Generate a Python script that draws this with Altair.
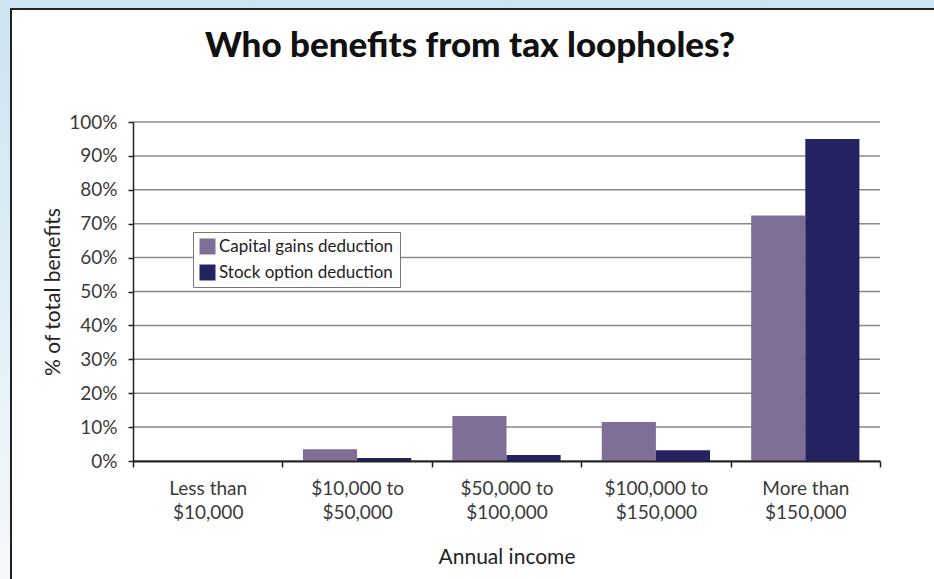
import altair as alt
import pandas as pd

title_text = "Who benefits from tax loopholes?"
categories = ["Less than\n$10,000", "$10,000 to\n$50,000", "$50,000 to\n$100,000",
              "$100,000 to\n$150,000", "More than\n$150,000"]
series = ["Capital gains deduction", "Stock option deduction"]
capital_gains = [0.0, 3.5, 13.3, 11.5, 72.4]
stock_option = [0.0, 0.9, 1.8, 3.2, 95.0]
colors = ["#7f6e96", "#252262"]
y_ticks = [0, 10, 20, 30, 40, 50, 60, 70, 80, 90, 100]

rows = []
for c, a, b in zip(categories, capital_gains, stock_option):
    rows.append({"income": c, "series": series[0], "value": a})
    rows.append({"income": c, "series": series[1], "value": b})
df = pd.DataFrame(rows)
grid_df = pd.DataFrame({"value": y_ticks})

W, H = 747, 339
PL, PT, PR, PB = 133, 122, 54, 118
FONT = "Lato"

one = alt.Data(values=[{}])

bg = alt.Chart(one).mark_rect(
    color=alt.Gradient(gradient="linear", x1=0, x2=0, y1=0, y2=1,
                       stops=[alt.GradientStop(color="#cce3f0", offset=0),
                              alt.GradientStop(color="#f4f9fc", offset=1)])
).encode(x=alt.value(-PL), x2=alt.value(W + PR), y=alt.value(-PT), y2=alt.value(H + PB))

panel = alt.Chart(one).mark_rect(fill="white", stroke="#222222", strokeWidth=2).encode(
    x=alt.value(11 - PL), x2=alt.value(W + PR + 20),
    y=alt.value(9 - PT), y2=alt.value(H + PB + 20))

title = alt.Chart(one).mark_text(
    font=FONT, fontSize=35, fontWeight=900, color="#111111",
    align="center", baseline="alphabetic"
).encode(x=alt.value(470 - PL), y=alt.value(57 - PT), text=alt.value(title_text))

y_axis = alt.Axis(title="% of total benefits", values=y_ticks,
                  labelExpr="datum.value + '%'", labelOverlap=False,
                  labelFlush=False,
                  labelFont=FONT, labelFontSize=19, labelColor="#3a3a3a",
                  labelPadding=11,
                  titleFont=FONT, titleFontSize=21, titleFontWeight="normal",
                  titleColor="#222222", titlePadding=5,
                  tickSize=5, tickColor="#222222", tickWidth=1.5,
                  domainColor="#222222", domainWidth=1.5,
                  grid=False, zindex=1)
y_scale = alt.Scale(domain=[0, 100], nice=False)

grid = alt.Chart(grid_df).mark_rule(color="#8a8a8a", strokeWidth=1.5).encode(
    y=alt.Y("value:Q", scale=y_scale, axis=y_axis))

bars = alt.Chart(df).mark_bar().encode(
    x=alt.X("income:N", sort=categories,
            scale=alt.Scale(paddingInner=0, paddingOuter=0),
            axis=alt.Axis(title="Annual income", labelAngle=0,
                          labelExpr="split(datum.label, '\\n')",
                          labelFont=FONT, labelFontSize=19, labelColor="#3a3a3a",
                          labelLineHeight=24, labelPadding=12,
                          titleFont=FONT, titleFontSize=21, titleFontWeight="normal",
                          titleColor="#222222", titlePadding=24,
                          tickBand="extent", tickSize=6, tickColor="#222222",
                          tickWidth=1.5, domainColor="#222222", domainWidth=2,
                          grid=False, zindex=1)),
    xOffset=alt.XOffset("series:N", sort=series,
                        scale=alt.Scale(paddingInner=0, paddingOuter=0.38)),
    y=alt.Y("value:Q", scale=y_scale, axis=y_axis),
    color=alt.Color("series:N", sort=series,
                    scale=alt.Scale(domain=series, range=colors),
                    legend=alt.Legend(title=None, orient="none", legendX=60, legendY=110,
                                      symbolType="square", symbolSize=256,
                                      symbolStrokeWidth=0,
                                      labelFont=FONT, labelFontSize=17,
                                      labelColor="#222222", labelOffset=3,
                                      labelLimit=400,
                                      rowPadding=8, padding=6, zindex=1,
                                      strokeColor="#777777", fillColor="white")),
)

chart = alt.layer(bg, panel, title, grid, bars).properties(
    width=W, height=H,
    autosize=alt.AutoSizeParams(type="none"),
    padding={"left": PL, "top": PT, "right": PR, "bottom": PB},
).configure_view(stroke=None).configure(background="white")

chart.save("out.html", embed_options={"renderer": "svg", "actions": False})
